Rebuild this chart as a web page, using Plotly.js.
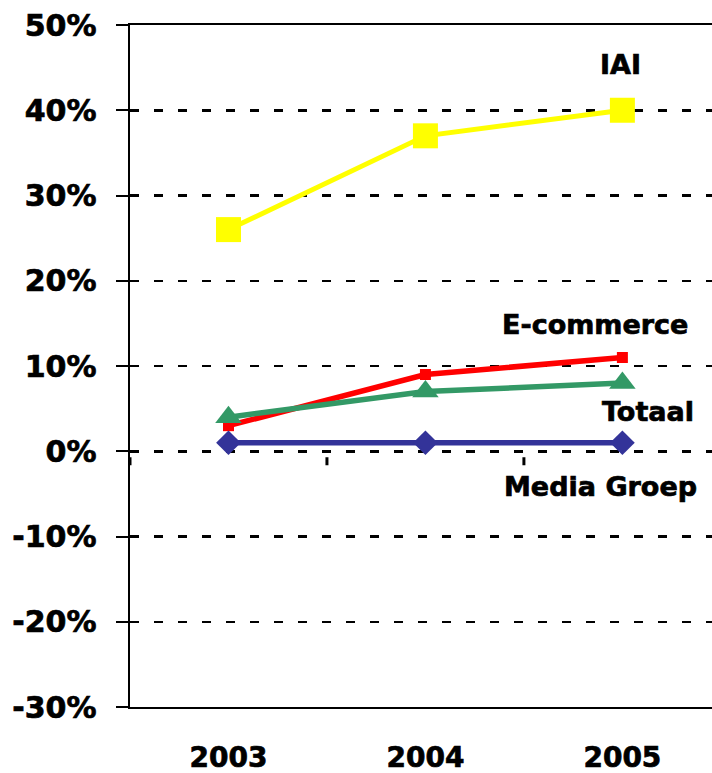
<!DOCTYPE html>
<html>
<head>
<meta charset="utf-8">
<script src="https://cdn.plot.ly/plotly-3.0.1.min.js"></script>
<style>
html,body{margin:0;padding:0;background:#fff;}
#chart{width:712px;height:773px;}
#chart .xtick text, #chart .ytick text, #chart .annotation-text{stroke:#000;stroke-width:0.7px;}
</style>
</head>
<body>
<div id="chart"></div>
<script>
const years = ['2003', '2004', '2005'];
const iai = [26, 37, 40];
const ecommerce = [3, 9, 11];
const totaal = [4, 7, 8];
const mediaGroep = [1, 1, 1];
const yTickVals = [50, 40, 30, 20, 10, 0, -10, -20, -30];
const yTickText = ['50%', '40%', '30%', '20%', '10%', '0%', '-10%', '-20%', '-30%'];
const seriesNames = ['IAI', 'E-commerce', 'Totaal', 'Media Groep'];

const FONT = 'DejaVu Sans, Arial, sans-serif';

const traces = [
  {x: years, y: iai, name: seriesNames[0], mode: 'lines+markers',
   line: {color: '#FFFF00', width: 5}, marker: {symbol: 'square', size: 25, color: '#FFFF00'}},
  {x: years, y: ecommerce, name: seriesNames[1], mode: 'lines+markers',
   line: {color: '#FF0000', width: 5.5}, marker: {symbol: 'square', size: 11, color: '#FF0000'}},
  {x: years, y: totaal, name: seriesNames[2], mode: 'lines+markers',
   line: {color: '#339966', width: 5.5}, marker: {symbol: 'triangle-up', size: 23, color: '#339966'}},
  {x: years, y: mediaGroep, name: seriesNames[3], mode: 'lines+markers',
   line: {color: '#333399', width: 5.5}, marker: {symbol: 'diamond', size: 19, color: '#333399'}}
];

// category-boundary tick marks on the 0% line (Excel style)
const boundaryTicks = years.map((_, i) => ({
  type: 'line', xref: 'x', yref: 'y', ysizemode: 'pixel', yanchor: 0,
  x0: i - 0.5, x1: i - 0.5, y0: -6, y1: -14,
  line: {color: '#000', width: 3}
}));

const lblFont = {family: FONT, size: 27, color: '#000', weight: 'bold'};
const layout = {
  width: 712, height: 773,
  margin: {l: 130, r: 0, t: 25, b: 66},
  paper_bgcolor: '#fff', plot_bgcolor: '#fff',
  showlegend: false,
  xaxis: {
    type: 'category', range: [-0.5, 2.455], categoryarray: years,
    showgrid: false, zeroline: false,
    showline: true, linecolor: '#000', linewidth: 2, mirror: true,
    ticks: '', ticklabelstandoff: 24,
    tickfont: {family: FONT, size: 28, color: '#000', weight: 'bold'}
  },
  yaxis: {
    range: [-30, 50], tickvals: yTickVals, ticktext: yTickText,
    showgrid: true, gridcolor: '#000', gridwidth: 2.5, griddash: '9px,15px',
    zeroline: false,
    showline: true, linecolor: '#000', linewidth: 2.5,
    ticks: 'outside', ticklen: 12, tickwidth: 2, tickcolor: '#000',
    ticklabelstandoff: 13,
    tickfont: {family: FONT, size: 30, color: '#000', weight: 'bold'}
  },
  shapes: boundaryTicks,
  annotations: [
    {xref: 'x', yref: 'y', x: 2, y: iai[2], text: seriesNames[0], showarrow: false, xshift: -2, yshift: 46, font: lblFont},
    {xref: 'x', yref: 'y', x: 2, y: ecommerce[2], text: seriesNames[1], showarrow: false, xshift: -27, yshift: 33, font: lblFont},
    {xref: 'x', yref: 'y', x: 2, y: totaal[2], text: seriesNames[2], showarrow: false, xshift: 26, yshift: -28, font: lblFont},
    {xref: 'x', yref: 'y', x: 2, y: mediaGroep[2], text: seriesNames[3], showarrow: false, xshift: -22, yshift: -44, font: lblFont}
  ]
};

Plotly.newPlot('chart', traces, layout, {displayModeBar: false, staticPlot: true})
  .catch(e => { document.body.insertAdjacentHTML('beforeend', '<pre>' + e + '</pre>'); });
</script>
</body>
</html>
